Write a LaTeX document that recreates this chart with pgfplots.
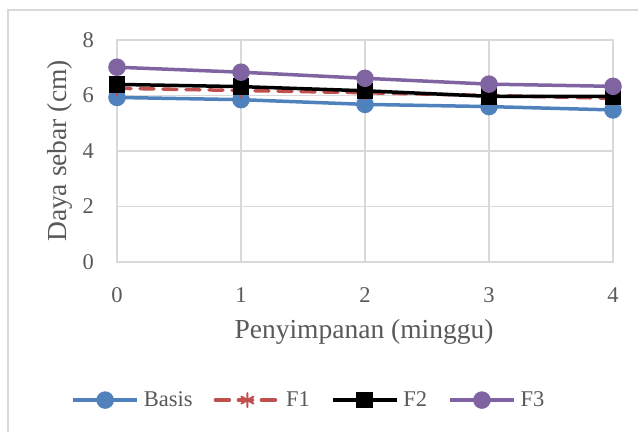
\documentclass[border=0pt]{standalone}
\usepackage{pgfplots}
\pgfplotsset{compat=1.18}
\usepackage{fontspec}
\setmainfont{Liberation Serif}
\definecolor{txt}{HTML}{595959}
\definecolor{gridc}{HTML}{D9D9D9}
\definecolor{cBasis}{HTML}{4F81BD}
\definecolor{cF1}{HTML}{C0504D}
\definecolor{cF3}{HTML}{8064A2}
\begin{document}
\begin{tikzpicture}
\useasboundingbox (0pt,0pt) rectangle (638pt,432pt);
\draw[gridc, line width=1.2pt] (8pt,0pt) -- (8pt,422pt) -- (640pt,422pt);
\begin{axis}[
  at={(117pt,170pt)}, anchor=south west,
  scale only axis, width=496pt, height=222pt,
  xmin=0, xmax=4, ymin=0, ymax=8,
  xtick={0,1,2,3,4}, ytick={0,2,4,6,8},
  major tick length=0pt,
  grid=major,
  major grid style={draw=gridc, line width=1.2pt},
  axis line style={draw=gridc, line width=1.2pt},
  /pgf/number format/assume math mode=true,
  tick label style={font=\fontsize{22.5}{26}\selectfont, text=txt},
  xticklabel style={anchor=base, inner sep=0pt, yshift=-40pt},
  yticklabel style={anchor=east, inner sep=0pt, xshift=-23pt},
  clip=false,
  legend columns=4,
  legend style={at={(axis description cs:0.387,-0.622)}, anchor=center, draw=none, fill=none,
    font=\fontsize{22.5}{26}\selectfont, text=txt,
    /tikz/every odd column/.append style={column sep=3pt},
    /tikz/every even column/.append style={column sep=19pt},
    inner sep=0pt},
  legend cell align=left,
  legend image code/.code={\draw[mark repeat=2,mark phase=2,#1] plot coordinates {(0pt,0pt) (32pt,0pt) (64pt,0pt)};},
]
\addplot[cBasis, line width=3.5pt, mark=*, mark size=7pt, mark options={solid, fill=cBasis}] coordinates {(0,5.93) (1,5.85) (2,5.68) (3,5.60) (4,5.48)};
\addlegendentry{Basis}
\addplot[cF1, line width=3.5pt, dash pattern=on 14pt off 9pt, line cap=round, mark=asterisk, mark size=7pt, mark options={solid, line width=2pt}] coordinates {(0,6.26) (1,6.18) (2,6.10) (3,6.00) (4,5.90)};
\addlegendentry{F1}
\addplot[black, line width=3.5pt, mark=square*, mark size=6.5pt, mark options={solid, fill=black}] coordinates {(0,6.40) (1,6.32) (2,6.17) (3,5.97) (4,5.97)};
\addlegendentry{F2}
\addplot[cF3, line width=3.5pt, mark=*, mark size=7pt, mark options={solid, fill=cF3}] coordinates {(0,7.02) (1,6.84) (2,6.62) (3,6.41) (4,6.33)};
\addlegendentry{F3}
\end{axis}
\node[anchor=base, font=\fontsize{27.5}{32}\selectfont, text=txt] at (364pt,94pt) {Penyimpanan (minggu)};
\node[rotate=90, anchor=base, font=\fontsize{27.5}{32}\selectfont, text=txt] at (66pt,281pt) {Daya sebar (cm)};
\end{tikzpicture}
\end{document}
